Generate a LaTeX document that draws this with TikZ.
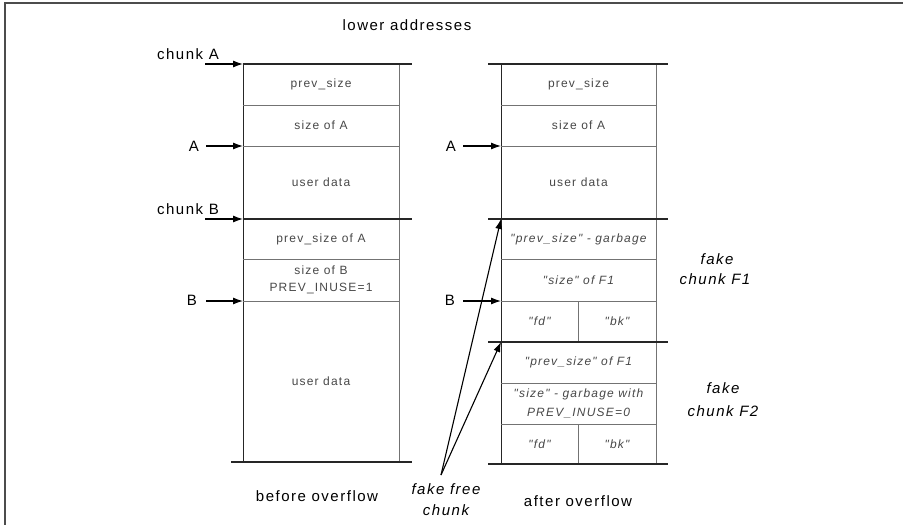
\documentclass[tikz,border=0pt]{standalone}
\usepackage{fontspec}
\setmainfont{Liberation Sans}
\newfontfamily\lblfont[LetterSpace=10]{Liberation Sans}
\usetikzlibrary{arrows.meta}
\begin{document}
\begin{tikzpicture}[x=1pt,y=-1pt,
  lbl/.style={font=\lblfont\fontsize{15}{17}\selectfont, text=black, inner sep=0pt},
  ilbl/.style={font=\lblfont\itshape\fontsize{15}{17}\selectfont, text=black, inner sep=0pt},
  cell/.style={font=\lblfont\fontsize{12}{17}\selectfont, text=black!72, align=center, inner sep=0pt},
  icell/.style={font=\lblfont\itshape\fontsize{12}{19}\selectfont, text=black!72, align=center, inner sep=0pt},
  heavy/.style={line width=1.8pt, black!85},
  thinl/.style={line width=0.8pt, black!55},
  edge/.style={line width=1pt, black!85},
  ptr/.style={-{Latex[length=10pt,width=7pt]}, line width=1.1pt, black},
  frame/.style={line width=2pt, black!70}]
\useasboundingbox (0,0) rectangle (903,525);
\draw[frame] (5,525) |- (903,3);

% ---------- left column (before overflow)
\draw[edge] (243,64) -- (243,462);
\draw[thinl] (399,64) -- (399,462);
\foreach \y in {105,146,259,301} \draw[thinl] (243,\y) -- (399,\y);
\draw[heavy] (243,64) -- (412,64);
\draw[heavy] (243,219) -- (412,219);
\draw[heavy] (231,462) -- (412,462);

\node[cell] (l1) at (321,84.5) {prev\_size};
\node[cell] (l2) at (321,125.5) {size of A};
\node[cell] (l3) at (321,182) {user data};
\node[cell] (l4) at (321,239) {prev\_size of A};
\node[cell] (l5) at (321,280) {size of B\\PREV\_INUSE=1};
\node[cell] (l6) at (321,381) {user data};

\coordinate (LcA) at (243,64);
\coordinate (LA) at (243,146);
\coordinate (LcB) at (243,219);
\coordinate (LB) at (243,301);
\coordinate (tcA) at (205,64);
\coordinate (tA) at (206,146);
\coordinate (tcB) at (205,219);
\coordinate (tB) at (206,301);
\node[lbl, anchor=base east] (chunkA) at (219,59) {chunk A};
\node[lbl, anchor=base east] (labA) at (199,151) {A};
\node[lbl, anchor=base east] (chunkB) at (219,214) {chunk B};
\node[lbl, anchor=base east] (labB) at (197,305) {B};
\draw[ptr] (tcA) -- (LcA);
\draw[ptr] (tA) -- (LA);
\draw[ptr] (tcB) -- (LcB);
\draw[ptr] (tB) -- (LB);

% ---------- right column (after overflow)
\draw[edge] (501,64) -- (501,464);
\draw[thinl] (656,64) -- (656,464);
\foreach \y in {105,146,259,301,383,424} \draw[thinl] (501,\y) -- (656,\y);
\draw[thinl] (578,301) -- (578,342);
\draw[thinl] (578,424) -- (578,464);
\foreach \y in {64,219,342,464} \draw[heavy] (488,\y) -- (668,\y);

\node[cell] (r1) at (578.5,84.5) {prev\_size};
\node[cell] (r2) at (578.5,125.5) {size of A};
\node[cell] (r3) at (578.5,182) {user data};
\node[icell] (r4) at (578.5,239) {"prev\_size" - garbage};
\node[icell] (r5) at (578.5,280) {"size" of F1};
\node[icell] (r6) at (539.5,321.5) {"fd"};
\node[icell] (r7) at (617,321.5) {"bk"};
\node[icell] (r8) at (578.5,362.5) {"prev\_size" of F1};
\node[icell] (r9) at (578.5,403.5) {"size" - garbage with\\PREV\_INUSE=0};
\node[icell] (r10) at (539.5,444) {"fd"};
\node[icell] (r11) at (617,444) {"bk"};

\coordinate (RA) at (501,146);
\coordinate (RB) at (501,301);
\coordinate (RF1) at (501,219);
\coordinate (RF2) at (501,342);
\coordinate (tRA) at (463,146);
\coordinate (tRB) at (463,301);
\coordinate (tF) at (441,475);
\node[lbl, anchor=base east] (rlabA) at (456,151) {A};
\node[lbl, anchor=base east] (rlabB) at (455,305) {B};
\draw[ptr] (tRA) -- (RA);
\draw[ptr] (tRB) -- (RB);
\draw[ptr] (tF) -- (RF1);
\draw[ptr] (tF) -- (RF2);

% ---------- labels
\node[lbl, anchor=base] (lower) at (407,30) {lower addresses};
\node[ilbl, anchor=base] (f1a) at (717,264) {fake};
\node[ilbl, anchor=base] (f1b) at (715,284) {chunk F1};
\node[ilbl, anchor=base] (f2a) at (723,393) {fake};
\node[ilbl, anchor=base] (f2b) at (723,416) {chunk F2};
\node[lbl, anchor=base] (before) at (317,501) {before overflow};
\node[lbl, anchor=base] (after) at (578,506) {after overflow};
\node[ilbl, anchor=base] (ffa) at (446,494) {fake free};
\node[ilbl, anchor=base] (ffb) at (446,515) {chunk};
\end{tikzpicture}
\end{document}
